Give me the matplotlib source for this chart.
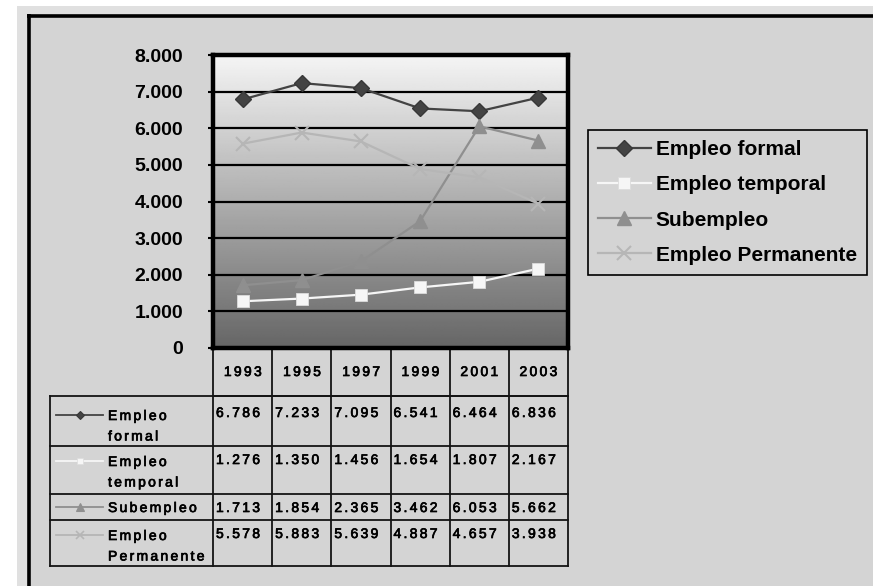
import numpy as np
import matplotlib
matplotlib.use("Agg")
import matplotlib.pyplot as plt
import matplotlib.patheffects as pe
from matplotlib.lines import Line2D
from matplotlib.patches import Rectangle

# Empleo por tipo, 1993-2003 (miles)
years = ["1993", "1995", "1997", "1999", "2001", "2003"]
series_names = ["Empleo formal", "Empleo temporal", "Subempleo", "Empleo Permanente"]
table_labels = [["Empleo", "formal"], ["Empleo", "temporal"], ["Subempleo"], ["Empleo", "Permanente"]]
empleo_formal = [6786, 7233, 7095, 6541, 6464, 6836]
empleo_temporal = [1276, 1350, 1456, 1654, 1807, 2167]
subempleo = [1713, 1854, 2365, 3462, 6053, 5662]
empleo_permanente = [5578, 5883, 5639, 4887, 4657, 3938]
y_ticks = [0, 1000, 2000, 3000, 4000, 5000, 6000, 7000, 8000]

series = [empleo_formal, empleo_temporal, subempleo, empleo_permanente]
styles = [
    dict(color="#434343", marker="D", ms=8, mec="#383838"),
    dict(color="#f6f6f6", marker="s", ms=8, mec="#dcdcdc", mew=0.6),
    dict(color="#8f8f8f", marker="^", ms=9.5, mec="#8f8f8f"),
    dict(color="#b6b6b6", marker="x", ms=9.5, mew=1.5),
]

W, H = 873, 586
BG = "#d4d4d4"


def fmt(v):
    return f"{v:,}".replace(",", ".")


def spaced(s):
    # table text is letter-spaced
    return "\u2006".join(s)


fig = plt.figure(figsize=(W / 100, H / 100), dpi=100, facecolor="white")

# pixel-space canvas for the frame and the data table
bg = fig.add_axes([0, 0, 1, 1])
bg.set_xlim(0, W)
bg.set_ylim(H, 0)
bg.axis("off")
bg.add_patch(Rectangle((17, 6), W - 17, H - 6, color="#e0e0e0", lw=0))
bg.add_patch(Rectangle((27, 14), W - 27, H - 14, color=BG, lw=0))
bg.plot([27, W], [15.5, 15.5], color="black", lw=2.6, solid_capstyle="butt")
bg.plot([28.5, 28.5], [14, H], color="black", lw=2.6, solid_capstyle="butt")

# plot area
px0, px1, py0, py1 = 213, 568, 55, 348
ax = fig.add_axes([px0 / W, 1 - py1 / H, (px1 - px0) / W, (py1 - py0) / H])
x = np.arange(len(years))
ax.set_xlim(-0.5, len(years) - 0.5)
ax.set_ylim(0, 8000)

grad = np.linspace(0.96, 0.40, 256).reshape(-1, 1)
ax.imshow(grad, cmap="gray", vmin=0, vmax=1, aspect="auto",
          extent=[-0.5, len(years) - 0.5, 0, 8000], origin="upper", zorder=0)
for t in y_ticks[1:-1]:
    ax.axhline(t, color="black", lw=1.6, zorder=1)

handles = []
for vals, st, name in zip(series, styles, series_names):
    ln, = ax.plot(x, vals, lw=1.6, zorder=3, label=name, **st)
    handles.append(ln)

ax.set_xticks([])
ax.set_yticks(y_ticks)
ax.set_yticklabels([fmt(t) for t in y_ticks], fontsize=14, fontweight="bold",
                   family="Liberation Sans")
ax.tick_params(axis="y", direction="out", length=3.6, width=1.5, pad=18)
for sp in ax.spines.values():
    sp.set_linewidth(3.2)

leg = ax.legend(handles=handles, loc="upper left",
                bbox_to_anchor=(588 / W, 1 - 130 / H), bbox_transform=fig.transFigure,
                frameon=True, fancybox=False, edgecolor="black", facecolor=BG,
                framealpha=1, borderpad=0.5, handlelength=2.5, handletextpad=0.25,
                labelspacing=0.77, borderaxespad=0,
                prop=dict(family="Liberation Sans", weight="bold", size=15))
leg.get_frame().set_linewidth(1.2)

# data table under the plot
col_w = (px1 - px0) / len(years)
head_top, head_bot = py1, 396
row_edges = [396, 446, 494, 520, 566]
lab_base = [24, 20, 18, 20]   # first-line baseline offset inside each row
val_base = [21, 18, 18, 18]
lab_x0 = 50
tcol = "#141414"
tfont = dict(family=["Liberation Sans", "DejaVu Sans"], fontsize=10,
             fontweight="normal", color="black",
             path_effects=[pe.withStroke(linewidth=0.5, foreground="black")])

for i in range(len(years) + 1):
    xe = px0 + i * col_w
    bg.plot([xe, xe], [head_top, row_edges[-1]], color=tcol, lw=1.3)
bg.plot([px0, px1], [head_bot, head_bot], color=tcol, lw=1.3)
for ye in row_edges:
    bg.plot([lab_x0, px1], [ye, ye], color=tcol, lw=1.3)
bg.plot([lab_x0, lab_x0], [row_edges[0], row_edges[-1]], color=tcol, lw=1.3)

for i, yr in enumerate(years):
    bg.text(px0 + (i + 0.5) * col_w, 376, spaced(yr),
            ha="center", va="baseline", **tfont)

for r, (vals, st, lab) in enumerate(zip(series, styles, table_labels)):
    top = row_edges[r]
    base_lab = top + lab_base[r]
    base_val = top + val_base[r]
    yk = base_lab - 5
    bg.add_line(Line2D([56, 103], [yk, yk], lw=1.3, color=st["color"]))
    bg.add_line(Line2D([79.5], [yk], marker=st["marker"], ms=st["ms"] * 0.55,
                       color=st["color"], mec=st.get("mec", st["color"]),
                       mew=st.get("mew", 1.0) * 0.8))
    for k, part in enumerate(lab):
        bg.text(108, base_lab + k * 20.5, spaced(part), ha="left", va="baseline", **tfont)
    for i, v in enumerate(vals):
        bg.text(px0 + i * col_w + 3, base_val, spaced(fmt(v)),
                ha="left", va="baseline", **tfont)

fig.savefig("out.png", dpi=100, facecolor="white")
